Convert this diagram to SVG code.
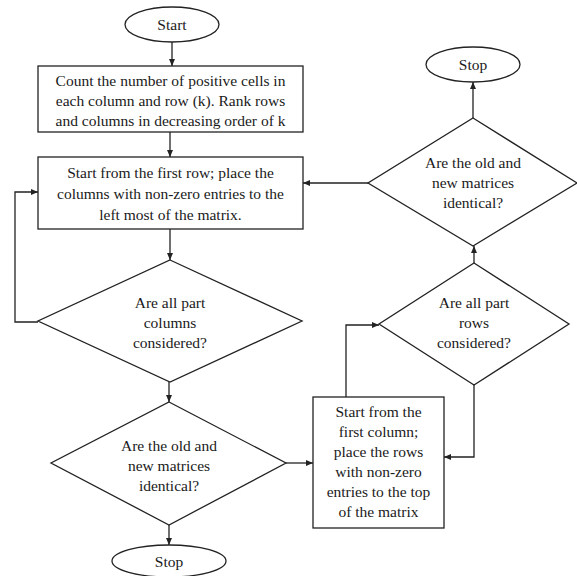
<svg xmlns="http://www.w3.org/2000/svg" width="577" height="576" viewBox="0 0 577 576">
  <style>
    .shape { fill: #fff; stroke: #222; stroke-width: 1.3; }
    .wire { fill: none; stroke: #222; stroke-width: 1.3; }
    .label { font-size: 15.5px; fill: #1a1a1a; text-anchor: middle; }
  </style>
  <defs>
    <marker id="arrow" markerUnits="userSpaceOnUse" markerWidth="8" markerHeight="8" refX="7" refY="4" orient="auto">
      <path d="M0,1 L7,4 L0,7 Z" fill="#222"/>
    </marker>
  </defs>
  <rect width="577" height="576" fill="#fff"/>

  <!-- connectors -->
  <g id="connectors">
    <line class="wire" x1="172" y1="42" x2="172" y2="66" marker-end="url(#arrow)"/>
    <line class="wire" x1="170" y1="132" x2="170" y2="157" marker-end="url(#arrow)"/>
    <line class="wire" x1="170" y1="229" x2="170" y2="260" marker-end="url(#arrow)"/>
    <polyline class="wire" points="38,322 15,322 15,192 38,192" marker-end="url(#arrow)"/>
    <line class="wire" x1="169" y1="382" x2="169" y2="402" marker-end="url(#arrow)"/>
    <line class="wire" x1="169" y1="525" x2="169" y2="545" marker-end="url(#arrow)"/>
    <line class="wire" x1="286" y1="463" x2="313" y2="463" marker-end="url(#arrow)"/>
    <polyline class="wire" points="346,397 346,325 379,325" marker-end="url(#arrow)"/>
    <polyline class="wire" points="474,385 474,457 444,457" marker-end="url(#arrow)"/>
    <line class="wire" x1="474" y1="263" x2="474" y2="246" marker-end="url(#arrow)"/>
    <line class="wire" x1="368" y1="183" x2="303" y2="183" marker-end="url(#arrow)"/>
    <line class="wire" x1="473" y1="118" x2="473" y2="82" marker-end="url(#arrow)"/>
  </g>

  <g class="label" font-family="'Liberation Serif', 'Times New Roman', serif">
  <g id="start">
    <ellipse class="shape" cx="172" cy="24.5" rx="47" ry="17.5"/>
    <text x="172" y="30">Start</text>
  </g>

  <g id="count-rank">
    <rect class="shape" x="38" y="66" width="265" height="66"/>
    <text x="170.5" y="86">Count the number of positive cells in</text>
    <text x="170.5" y="106">each column and row (k). Rank rows</text>
    <text x="170.5" y="126">and columns in decreasing  order of k</text>
  </g>

  <g id="place-columns">
    <rect class="shape" x="38" y="157" width="265" height="72"/>
    <text x="170.5" y="178">Start from the first row; place the</text>
    <text x="170.5" y="199">columns with non-zero entries to the</text>
    <text x="170.5" y="220">left most of the matrix.</text>
  </g>

  <g id="all-columns">
    <polygon class="shape" points="170,260 302,321 170,382 38,321"/>
    <text x="170" y="308">Are all part</text>
    <text x="170" y="328">columns</text>
    <text x="170" y="348">considered?</text>
  </g>

  <g id="identical-left">
    <polygon class="shape" points="169,402 286,463 169,525 51,463"/>
    <text x="169" y="451">Are the old and</text>
    <text x="169" y="471">new matrices</text>
    <text x="169" y="491">identical?</text>
  </g>

  <g id="stop-bottom">
    <ellipse class="shape" cx="169" cy="561" rx="57" ry="16"/>
    <text x="169" y="567">Stop</text>
  </g>

  <g id="place-rows">
    <rect class="shape" x="313" y="397" width="131" height="131"/>
    <text x="378.5" y="417">Start from the</text>
    <text x="378.5" y="437">first column;</text>
    <text x="378.5" y="457">place the rows</text>
    <text x="378.5" y="477">with non-zero</text>
    <text x="378.5" y="497">entries to the top</text>
    <text x="378.5" y="517">of the matrix</text>
  </g>

  <g id="all-rows">
    <polygon class="shape" points="474,263 569,324 474,385 379,324"/>
    <text x="474" y="308">Are all part</text>
    <text x="474" y="328">rows</text>
    <text x="474" y="348">considered?</text>
  </g>

  <g id="identical-right">
    <polygon class="shape" points="473,118 577,183 473,246 368,183"/>
    <text x="473" y="168">Are the old and</text>
    <text x="473" y="188">new matrices</text>
    <text x="473" y="208">identical?</text>
  </g>

  <g id="stop-top">
    <ellipse class="shape" cx="473" cy="64.5" rx="47" ry="17.5"/>
    <text x="473" y="70">Stop</text>
  </g>
  </g>
</svg>
